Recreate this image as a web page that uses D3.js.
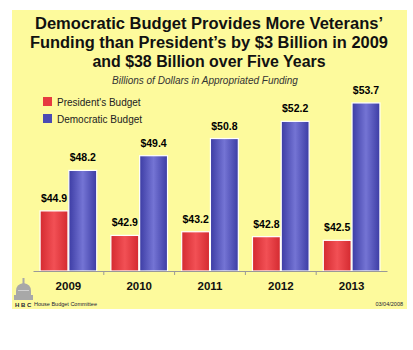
<!DOCTYPE html>
<html><head><meta charset="utf-8">
<script src="https://cdn.jsdelivr.net/npm/d3@7"></script>
<style>body{margin:0;background:#fff}svg{display:block}</style>
</head><body>
<script>
const titleLines = ["Democratic Budget Provides More Veterans’", "Funding than President’s by $3 Billion in 2009", "and $38 Billion over Five Years"];
const subtitle = "Billions of Dollars in Appropriated Funding";
const years = ["2009", "2010", "2011", "2012", "2013"];
const seriesNames = ["President's Budget", "Democratic Budget"];
const presidents = [44.9, 42.9, 43.2, 42.8, 42.5];
const democratic = [48.2, 49.4, 50.8, 52.2, 53.7];
const footerLeft = "House Budget Committee";
const footerRight = "03/04/2008";

const W = 413, H = 350;
const FONT = "Liberation Sans, Arial, sans-serif";
const svg = d3.select("body").append("svg").attr("width", W).attr("height", H);
const defs = svg.append("defs");
function grad(id, edge, mid) {
  const g = defs.append("linearGradient").attr("id", id).attr("x1", "0").attr("x2", "1").attr("y1", "0").attr("y2", "0");
  g.append("stop").attr("offset", "0%").attr("stop-color", edge);
  g.append("stop").attr("offset", "50%").attr("stop-color", mid);
  g.append("stop").attr("offset", "100%").attr("stop-color", edge);
}
grad("gRed", "#d42a30", "#f25055");
grad("gBlue", "#3c3ca4", "#7474d4");
const colors = ["url(#gRed)", "url(#gBlue)"];
const solid = ["#e63a40", "#4a4ab4"];

svg.append("rect").attr("x", 12).attr("y", 10).attr("width", 395).attr("height", 299).attr("fill", "#fdfa9c");

const titleWidths = [348, 358, 233];
titleLines.forEach((t, i) => svg.append("text").attr("x", 209).attr("y", 28.5 + i * 19)
  .attr("text-anchor", "middle").attr("font-family", FONT).attr("font-weight", "bold")
  .attr("font-size", 16).attr("fill", "#111")
  .attr("textLength", titleWidths[i]).attr("lengthAdjust", "spacingAndGlyphs").text(t));

svg.append("text").attr("x", 205).attr("y", 84).attr("text-anchor", "middle").attr("font-family", FONT)
  .attr("font-style", "italic").attr("font-size", 10).attr("fill", "#333").text(subtitle);

const x = d3.scaleBand().domain(years).range([33, 387]).paddingInner(0.2).paddingOuter(0.1);
const x0 = d3.scaleBand().domain(years).range([33, 387]);
const xs = d3.scaleBand().domain([0, 1]).range([0, x.bandwidth()]).paddingInner(0.03);
const y = d3.scaleLinear().domain([40, 55]).range([271, 87]);

const data = years.map((yr, i) => ({yr, vals: [presidents[i], democratic[i]]}));
const g = svg.append("g");
data.forEach(d => {
  d.vals.forEach((v, k) => {
    const bx = x(d.yr) + xs(k);
    g.append("rect").attr("x", bx).attr("y", y(v)).attr("width", xs.bandwidth()).attr("height", y(40) - y(v))
      .attr("fill", colors[k]).attr("stroke", "#fff").attr("stroke-width", 1.2);
    g.append("text").attr("x", bx + xs.bandwidth() / 2).attr("y", y(v) - 9).attr("text-anchor", "middle")
      .attr("font-family", FONT).attr("font-weight", "bold").attr("font-size", 10.5)
      .attr("fill", "#000").text("$" + v.toFixed(1));
  });
});

// axis
const axis = d3.axisBottom(x0).tickSize(0).tickFormat("");
const ax = svg.append("g").attr("transform", "translate(0,271)").call(axis);
ax.select(".domain").attr("stroke", "#999").attr("stroke-width", 1);
years.slice(1).forEach(yr => {
  svg.append("line").attr("x1", x0(yr)).attr("x2", x0(yr)).attr("y1", 271).attr("y2", 275).attr("stroke", "#999");
});
svg.selectAll(".yl").data(years).enter().append("text").attr("x", d => x0(d) + x0.bandwidth() / 2).attr("y", 290)
  .attr("text-anchor", "middle").attr("font-family", FONT).attr("font-weight", "bold")
  .attr("font-size", 11.5).attr("fill", "#111").text(d => d);

// legend
seriesNames.forEach((n, i) => {
  svg.append("rect").attr("x", 43).attr("y", 97 + i * 17).attr("width", 9).attr("height", 9).attr("fill", solid[i]);
  svg.append("text").attr("x", 57).attr("y", 105.5 + i * 17).attr("font-family", FONT)
    .attr("font-size", 10).attr("fill", "#222").text(n);
});

// footer logo (simple capitol dome)
const logo = svg.append("g").attr("fill", "#a8a8a8");
logo.append("rect").attr("x", 14).attr("y", 295).attr("width", 19).attr("height", 5);
logo.append("path").attr("d", "M16,295 L16,291 Q16,284 23.5,283 Q31,284 31,291 L31,295 Z");
logo.append("rect").attr("x", 22.5).attr("y", 278).attr("width", 2).attr("height", 6);
logo.append("rect").attr("x", 18).attr("y", 290).attr("width", 11).attr("height", 1).attr("fill", "#d0d0d0");
svg.append("text").attr("x", 15).attr("y", 306.5).attr("font-family", FONT).attr("font-weight", "bold")
  .attr("font-size", 6).attr("fill", "#223").text("H B C");
svg.append("text").attr("x", 34).attr("y", 306).attr("font-family", FONT)
  .attr("font-size", 5.5).attr("fill", "#223").text(footerLeft);
svg.append("text").attr("x", 403).attr("y", 306).attr("text-anchor", "end").attr("font-family", FONT)
  .attr("font-size", 5.5).attr("fill", "#223").text(footerRight);
</script>
</body></html>
